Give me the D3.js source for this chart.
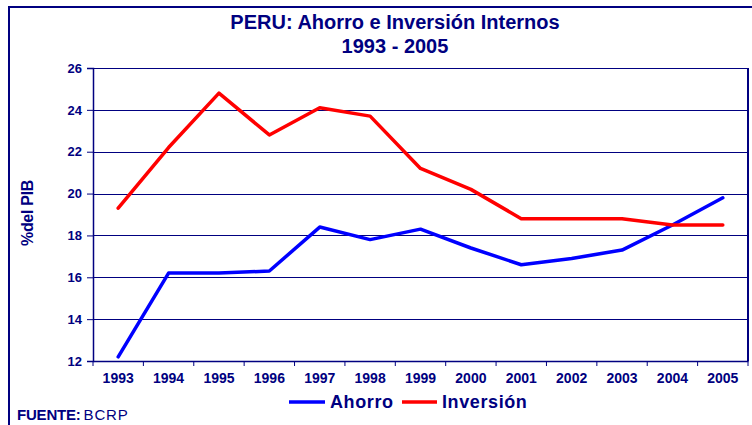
<!DOCTYPE html>
<html>
<head>
<meta charset="utf-8">
<script src="https://cdn.jsdelivr.net/npm/d3@7"></script>
<style>
    body { margin: 0; background: #fff; }
    svg { display: block; font-family: "Liberation Sans", Arial, sans-serif; }
</style>
</head>
<body>
<svg id="chart" width="752" height="425"></svg>
<script>
// years and values (% del PIB)
const years = ["1993", "1994", "1995", "1996", "1997", "1998", "1999", "2000", "2001", "2002", "2003", "2004", "2005"];
const ahorro = [12.2, 16.2, 16.2, 16.3, 18.4, 17.8, 18.3, 17.4, 16.6, 16.9, 17.3, 18.5, 19.8];
const inversion = [19.3, 22.2, 24.8, 22.8, 24.1, 23.7, 21.2, 20.2, 18.8, 18.8, 18.8, 18.5, 18.5];
const yTicks = [12, 14, 16, 18, 20, 22, 24, 26];

document.addEventListener("DOMContentLoaded", function() {
    const navy = "#000080";
    const svg = d3.select("#chart");
    const margin = { top: 68, right: 4, bottom: 64, left: 93 };
    const width = 752 - margin.left - margin.right;
    const height = 425 - margin.top - margin.bottom;

    // outer frame, runs off the right and bottom edge
    svg.append("rect")
        .attr("x", 9).attr("y", 7)
        .attr("width", 800).attr("height", 500)
        .attr("fill", "none")
        .attr("stroke", navy)
        .attr("stroke-width", 2);

    svg.append("text")
        .attr("x", 395).attr("y", 29)
        .attr("text-anchor", "middle")
        .attr("fill", navy)
        .style("font-size", "20px").style("font-weight", "bold")
        .text("PERU: Ahorro e Inversión Internos");

    svg.append("text")
        .attr("x", 395).attr("y", 53)
        .attr("text-anchor", "middle")
        .attr("fill", navy)
        .style("font-size", "20px").style("font-weight", "bold")
        .text("1993 - 2005");

    const xScale = d3.scaleBand()
        .domain(years)
        .range([0, width]);

    const yScale = d3.scaleLinear()
        .domain([12, 26])
        .range([height, 0]);

    const chart = svg.append("g")
        .attr("transform", `translate(${margin.left},${margin.top})`);

    // gridlines
    chart.append("g")
        .selectAll("line")
        .data(yTicks)
        .enter()
        .append("line")
        .attr("x1", 0).attr("x2", width)
        .attr("y1", d => Math.round(yScale(d)) + 0.5)
        .attr("y2", d => Math.round(yScale(d)) + 0.5)
        .attr("stroke", navy)
        .attr("stroke-width", 1);

    // right edge of plot
    chart.append("line")
        .attr("x1", width).attr("x2", width)
        .attr("y1", 0).attr("y2", height)
        .attr("stroke", navy)
        .attr("stroke-width", 2);

    const yAxis = d3.axisLeft(yScale)
        .tickValues(yTicks)
        .tickSize(6)
        .tickPadding(5);

    const yG = chart.append("g").call(yAxis);
    yG.select(".domain").attr("stroke", navy).attr("stroke-width", 1.5);
    yG.selectAll(".tick line").attr("stroke", navy);
    yG.selectAll(".tick text")
        .attr("fill", navy)
        .style("font-size", "13px").style("font-weight", "bold")
        .style("font-family", "'Liberation Sans', Arial, sans-serif");

    const xAxis = d3.axisBottom(xScale)
        .tickSize(0)
        .tickPadding(12);

    const xG = chart.append("g")
        .attr("transform", `translate(0,${height})`)
        .call(xAxis);
    xG.select(".domain").attr("stroke", navy).attr("stroke-width", 1.5);
    xG.selectAll(".tick text")
        .attr("fill", navy)
        .style("font-size", "14px").style("font-weight", "bold")
        .style("font-family", "'Liberation Sans', Arial, sans-serif");

    // tick marks between categories
    xG.selectAll(".sep")
        .data(d3.range(years.length + 1))
        .enter()
        .append("line")
        .attr("class", "sep")
        .attr("x1", i => i * xScale.step())
        .attr("x2", i => i * xScale.step())
        .attr("y1", 0).attr("y2", 5)
        .attr("stroke", navy);

    const cx = d => xScale(d) + xScale.bandwidth() / 2;

    const series = [
        { name: "Ahorro", values: ahorro, color: "#0000ff" },
        { name: "Inversión", values: inversion, color: "#ff0000" }
    ];

    const line = d3.line()
        .x((v, i) => cx(years[i]))
        .y(v => yScale(v));

    chart.selectAll(".series")
        .data(series)
        .enter()
        .append("path")
        .attr("class", "series")
        .attr("d", d => line(d.values))
        .attr("fill", "none")
        .attr("stroke", d => d.color)
        .attr("stroke-width", 3.5)
        .attr("stroke-linejoin", "round")
        .attr("stroke-linecap", "round");

    // y axis title
    svg.append("text")
        .attr("transform", "translate(33,213) rotate(-90)")
        .attr("text-anchor", "middle")
        .attr("fill", navy)
        .style("font-size", "16px").style("font-weight", "bold")
        .style("letter-spacing", "-0.3px")
        .text("%del PIB");

    // legend
    const legend = svg.append("g");
    legend.append("line")
        .attr("x1", 289).attr("x2", 325).attr("y1", 402).attr("y2", 402)
        .attr("stroke", "#0000ff").attr("stroke-width", 3.5);
    legend.append("text")
        .attr("x", 330).attr("y", 408)
        .attr("fill", navy)
        .style("font-size", "18px").style("font-weight", "bold")
        .style("letter-spacing", "0.6px")
        .text("Ahorro");
    legend.append("line")
        .attr("x1", 402).attr("x2", 437).attr("y1", 402).attr("y2", 402)
        .attr("stroke", "#ff0000").attr("stroke-width", 3.5);
    legend.append("text")
        .attr("x", 442).attr("y", 408)
        .attr("fill", navy)
        .style("font-size", "18px").style("font-weight", "bold")
        .style("letter-spacing", "0.6px")
        .text("Inversión");

    // source
    const src = svg.append("text")
        .attr("x", 17).attr("y", 420)
        .attr("fill", navy)
        .style("font-size", "15px");
    src.append("tspan").style("font-weight", "bold").style("letter-spacing", "-0.2px").text("FUENTE:");
    src.append("tspan").attr("dx", 3).style("letter-spacing", "0.8px").text("BCRP");
});
</script>
</body>
</html>
